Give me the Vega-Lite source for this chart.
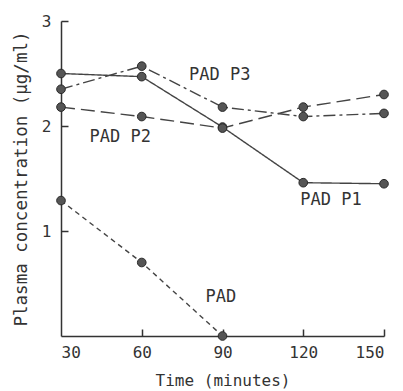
{
  "$schema": "https://vega.github.io/schema/vega-lite/v6.json",
  "width": 323,
  "height": 315,
  "autosize": "none",
  "padding": {"left": 61, "top": 21, "right": 19, "bottom": 55},
  "background": "white",
  "config": {
    "view": {"stroke": null},
    "font": "DejaVu Sans Mono",
    "axis": {"grid": false, "domainColor": "#333", "domainWidth": 1.5, "tickColor": "#333", "tickWidth": 1.5, "labelColor": "#333", "titleColor": "#333", "labelFont": "DejaVu Sans Mono", "titleFont": "DejaVu Sans Mono", "labelFontSize": 16, "titleFontSize": 16, "titleFontWeight": "normal"}
  },
  "datasets": {
    "series": [
      {"series": "PAD P1", "time": 30, "conc": 2.50},
      {"series": "PAD P1", "time": 60, "conc": 2.47},
      {"series": "PAD P1", "time": 90, "conc": 1.99},
      {"series": "PAD P1", "time": 120, "conc": 1.46},
      {"series": "PAD P1", "time": 150, "conc": 1.45},
      {"series": "PAD P2", "time": 30, "conc": 2.18},
      {"series": "PAD P2", "time": 60, "conc": 2.09},
      {"series": "PAD P2", "time": 90, "conc": 1.98},
      {"series": "PAD P2", "time": 120, "conc": 2.18},
      {"series": "PAD P2", "time": 150, "conc": 2.30},
      {"series": "PAD P3", "time": 30, "conc": 2.35},
      {"series": "PAD P3", "time": 60, "conc": 2.57},
      {"series": "PAD P3", "time": 90, "conc": 2.18},
      {"series": "PAD P3", "time": 120, "conc": 2.09},
      {"series": "PAD P3", "time": 150, "conc": 2.12},
      {"series": "PAD", "time": 30, "conc": 1.29},
      {"series": "PAD", "time": 60, "conc": 0.70},
      {"series": "PAD", "time": 90, "conc": 0.0}
    ],
    "labels": [
      {"text": "PAD  P3", "time": 89, "conc": 2.49},
      {"text": "PAD  P2", "time": 52, "conc": 1.90},
      {"text": "PAD  P1", "time": 130.3, "conc": 1.30},
      {"text": "PAD", "time": 89.4, "conc": 0.37}
    ]
  },
  "resolve": {"axis": {"x": "independent", "y": "independent"}},
  "layer": [
    {
      "data": {"name": "series"},
      "mark": {"type": "line", "color": "#444", "strokeWidth": 1.4},
      "encoding": {
        "x": {"field": "time", "type": "quantitative", "scale": {"domain": [30, 150], "nice": false, "zero": false},
              "axis": {"orient": "bottom", "values": [30, 60, 90, 120, 150], "format": "d", "ticks": false, "labelPadding": 8, "title": "Time (minutes)", "titlePadding": 12}},
        "y": {"field": "conc", "type": "quantitative", "scale": {"domain": [0, 3], "nice": false},
              "axis": {"orient": "left", "values": [1, 2, 3], "format": "d", "ticks": false, "labelPadding": 10, "title": "Plasma concentration (μg/ml)", "titlePadding": 11, "titleFontSize": 17.5}},
        "detail": {"field": "series"},
        "strokeDash": {"field": "series", "type": "nominal", "legend": null,
                       "scale": {"domain": ["PAD P1", "PAD P2", "PAD P3", "PAD"], "range": [[1, 0], [14, 6], [12, 4, 3, 4], [5, 4]]}}
      }
    },
    {
      "data": {"name": "series"},
      "mark": {"type": "point", "filled": true, "opacity": 0},
      "encoding": {
        "x": {"field": "time", "type": "quantitative",
              "axis": {"orient": "bottom", "offset": -7, "values": [60, 90, 120, 150], "domain": false, "labels": false, "ticks": true, "tickSize": 7, "title": null}},
        "y": {"field": "conc", "type": "quantitative",
              "axis": {"orient": "left", "offset": -7, "values": [1, 2, 3], "domain": false, "labels": false, "ticks": true, "tickSize": 7, "title": null}}
      }
    },
    {
      "data": {"name": "series"},
      "mark": {"type": "point", "filled": true, "fill": "#555", "stroke": "#2a2a2a", "strokeWidth": 1, "size": 75, "opacity": 1},
      "encoding": {
        "x": {"field": "time", "type": "quantitative", "axis": null},
        "y": {"field": "conc", "type": "quantitative", "axis": null}
      }
    },
    {
      "data": {"name": "labels"},
      "mark": {"type": "text", "fontSize": 17, "font": "DejaVu Sans Mono", "color": "#333", "align": "center", "baseline": "middle"},
      "encoding": {
        "x": {"field": "time", "type": "quantitative", "axis": null},
        "y": {"field": "conc", "type": "quantitative", "axis": null},
        "text": {"field": "text"}
      }
    }
  ]
}
